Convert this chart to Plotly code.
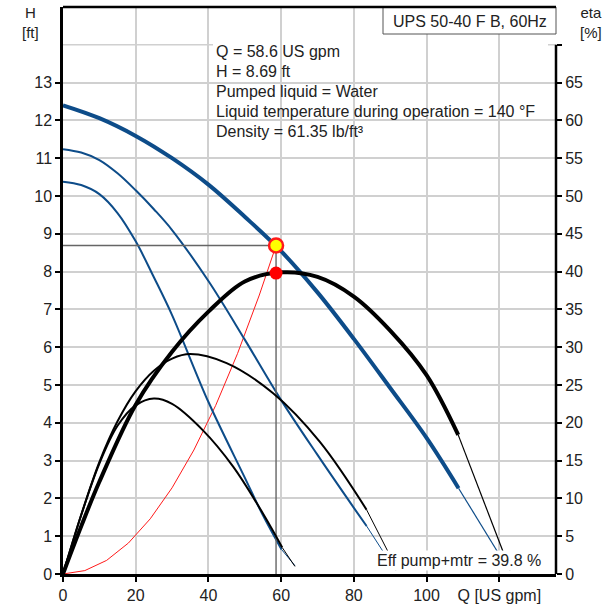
import plotly.graph_objects as go

# ---------------- data ----------------
# Q-H curves (US gpm, ft) for the three speeds
q_h3 = [0, 10, 20, 30, 40, 50, 60, 70, 80, 90, 100, 108.8]
h3 = [12.40, 12.06, 11.59, 11.0, 10.3, 9.45, 8.54, 7.45, 6.22, 4.92, 3.6, 2.27]
q_h3_ext = [108.8, 115, 122]
h3_ext = [2.27, 1.3, 0.2]

q_h2 = [0, 5, 10, 15, 20, 25, 30, 40, 50, 60, 70, 80, 83.5]
h2 = [11.24, 11.15, 10.95, 10.6, 10.15, 9.65, 9.1, 7.75, 6.2, 4.6, 3.15, 1.75, 1.27]
q_h2_ext = [83.5, 88, 91]
h2_ext = [1.27, 0.6, 0.2]

q_h1 = [0, 5, 10, 15, 20, 25, 30, 40, 50, 55, 60.1]
h1 = [10.38, 10.29, 10.05, 9.55, 8.8, 7.85, 6.85, 4.55, 2.55, 1.55, 0.65]
q_h1_ext = [60.1, 63.8]
h1_ext = [0.65, 0.22]

# Efficiency curves (eta %, right axis)
q_e3 = [0, 5, 10, 20, 30, 40, 50, 60, 70, 80, 90, 100, 108.7]
e3 = [0, 6.3, 12.2, 22.4, 29.4, 34.7, 38.7, 39.9, 39.3, 36.7, 32.2, 26.3, 18.4]
q_e3_ext = [108.7, 115, 120.8, 123]
e3_ext = [18.4, 10.6, 3.4, 0.5]

q_e2 = [0, 5, 10, 15, 20, 25, 30, 35, 45, 57.8, 70.6, 83.5]
e2 = [0, 7.8, 14.8, 20.2, 24.2, 26.9, 28.5, 29.1, 27.9, 23.9, 17.5, 8.5]
q_e2_ext = [83.5, 89.4, 91.5]
e2_ext = [8.5, 2.95, 0.5]

q_e1 = [0, 5, 10, 15, 20, 25, 30, 38.5, 46.8, 55, 60.3]
e1 = [0, 7.8, 14.6, 19.6, 22.3, 23.2, 22.5, 19.0, 14.2, 8.0, 3.5]
q_e1_ext = [60.3, 63.8]
e1_ext = [3.5, 1.0]

# System curve
q_sys = [0, 6, 12, 18, 24, 30, 36, 42, 48, 54, 58.6]
h_sys = [0, 0.09, 0.36, 0.82, 1.46, 2.28, 3.28, 4.46, 5.83, 7.38, 8.69]

# Duty point
q_duty = 58.6
h_duty = 8.69
eff_duty = 39.8

x_tickvals = [0, 20, 40, 60, 80, 100, 120]
x_ticktext = ["0", "20", "40", "60", "80", "100", "Q [US gpm]"]
h_ticks = list(range(0, 14))
eta_ticks = list(range(0, 75, 5))

info_lines = [
    "Q = 58.6 US gpm",
    "H = 8.69 ft",
    "Pumped liquid = Water",
    "Liquid temperature during operation = 140 °F",
    "Density = 61.35 lb/ft³",
]
title_text = "UPS 50-40 F B, 60Hz"
eff_label = "Eff pump+mtr = 39.8 %"

# ---------------- styling ----------------
FONT = "Liberation Sans, Arial, sans-serif"
BLUE = "#0d4c89"
TXT = "#222222"
W, H = 614, 604
L, R, T, B = 63, 58, 7, 30
PW, PH = W - L - R, H - T - B


def px_x(px):
    return (px - L) / PW


def px_y(py):
    return (H - B - py) / PH


fig = go.Figure()


def line(x, y, color, width, yaxis="y", shape="spline"):
    ln = dict(color=color, width=width, shape=shape)
    if shape == "spline":
        ln["smoothing"] = 1.0
    fig.add_trace(go.Scatter(x=x, y=y, mode="lines", yaxis=yaxis, line=ln,
                             hoverinfo="skip", showlegend=False))


# system curve
line(q_sys, h_sys, "#ff1a1a", 1, shape="linear")
# QH curves
line(q_h1, h1, BLUE, 2)
line(q_h1_ext, h1_ext, BLUE, 1, shape="linear")
line(q_h2, h2, BLUE, 2)
line(q_h2_ext, h2_ext, BLUE, 1, shape="linear")
line(q_h3, h3, BLUE, 4)
line(q_h3_ext, h3_ext, BLUE, 1.2, shape="linear")
# duty reference lines
line([0, q_duty, q_duty], [h_duty, h_duty, 0], "#666666", 1.4, shape="linear")
# duty point on QH
fig.add_trace(go.Scatter(x=[q_duty], y=[h_duty], mode="markers",
                         marker=dict(size=14, color="#ffff00", line=dict(color="#ff1a1a", width=2.5)),
                         hoverinfo="skip", showlegend=False))

# efficiency curves (right axis)
line(q_e1, e1, "black", 2, yaxis="y2")
line(q_e1_ext, e1_ext, "black", 1, yaxis="y2", shape="linear")
line(q_e2, e2, "black", 2, yaxis="y2")
line(q_e2_ext, e2_ext, "black", 1, yaxis="y2", shape="linear")
line(q_e3, e3, "black", 4, yaxis="y2")
line(q_e3_ext, e3_ext, "black", 1.2, yaxis="y2", shape="linear")
fig.add_trace(go.Scatter(x=[q_duty], y=[eff_duty], mode="markers", yaxis="y2",
                         marker=dict(size=13, color="#ff0000"),
                         hoverinfo="skip", showlegend=False))

shapes = [
    # gridline at H=14 (no tick on the left axis there)
    dict(type="line", xref="paper", yref="y", x0=0, x1=1, y0=14, y1=14,
         line=dict(color="#d0d0d0", width=1.5), layer="between"),
    # white box behind info text
    dict(type="rect", xref="paper", yref="paper", x0=px_x(213), x1=px_x(548),
         y0=px_y(140), y1=px_y(40), fillcolor="white", line=dict(width=0), layer="between"),
    # title box
    dict(type="rect", xref="paper", yref="paper", x0=px_x(383), x1=1,
         y0=px_y(34), y1=1, fillcolor="white", line=dict(color="#555555", width=1), layer="above"),
    # top frame line
    dict(type="line", xref="paper", yref="paper", x0=0, x1=1, y0=1, y1=1,
         line=dict(color="black", width=2.5), layer="above"),
    # right axis line (up to eta = 70)
    dict(type="line", xref="paper", yref="y2", x0=1, x1=1, y0=0, y1=70,
         line=dict(color="black", width=2.5), layer="above"),
]

annotations = []
for i, txt in enumerate(info_lines):
    annotations.append(dict(xref="paper", yref="paper", x=px_x(214), y=px_y(51 + 20 * i),
                            xanchor="left", yanchor="middle", text=txt, showarrow=False,
                            font=dict(family=FONT, size=16, color=TXT)))
annotations.append(dict(xref="paper", yref="paper", x=px_x(469.5), y=px_y(21),
                        xanchor="center", yanchor="middle", text=title_text, showarrow=False,
                        font=dict(family=FONT, size=16, color=TXT)))
annotations.append(dict(xref="paper", yref="paper", x=px_x(543), y=px_y(560),
                        xanchor="right", yanchor="middle", text=eff_label, showarrow=False,
                        bgcolor="white", borderpad=1,
                        font=dict(family=FONT, size=16, color=TXT)))
for txt, xx in [("H<br>[ft]", 30), ("eta<br>[%]", 591)]:
    annotations.append(dict(xref="paper", yref="paper", x=px_x(xx), y=px_y(22),
                            xanchor="center", yanchor="middle", text=txt, showarrow=False,
                            font=dict(family=FONT, size=15, color=TXT)))

fig.update_layout(
    width=W, height=H,
    autosize=False,
    margin=dict(l=L, r=R, t=T, b=B, pad=0, autoexpand=False),
    paper_bgcolor="white", plot_bgcolor="white",
    font=dict(family=FONT, size=16, color=TXT),
    showlegend=False,
    shapes=shapes,
    annotations=annotations,
    xaxis=dict(range=[0, 135.6], tickvals=x_tickvals, ticktext=x_ticktext,
               showgrid=True, gridcolor="#d0d0d0", gridwidth=1.5,
               showline=True, linecolor="black", linewidth=2.5,
               ticks="outside", ticklen=5, tickwidth=2, tickcolor="black",
               zeroline=False, tickfont=dict(size=16), automargin=False),
    yaxis=dict(range=[0, 15], tickvals=h_ticks,
               showgrid=True, gridcolor="#d0d0d0", gridwidth=1.5,
               showline=True, linecolor="black", linewidth=2.5,
               ticks="outside", ticklen=5, tickwidth=2, tickcolor="black",
               zeroline=False, tickfont=dict(size=16), automargin=False),
    yaxis2=dict(range=[0, 75], overlaying="y", side="right", tickvals=eta_ticks,
                ticktext=[str(v) if v < 70 else "" for v in eta_ticks],
                showgrid=False, showline=False, zeroline=False,
                ticks="outside", ticklen=5, tickwidth=2, tickcolor="black",
                tickfont=dict(size=16), automargin=False),
)

fig.write_html("out.html", config={"displayModeBar": False},
               post_script="document.body.style.margin='0';")
